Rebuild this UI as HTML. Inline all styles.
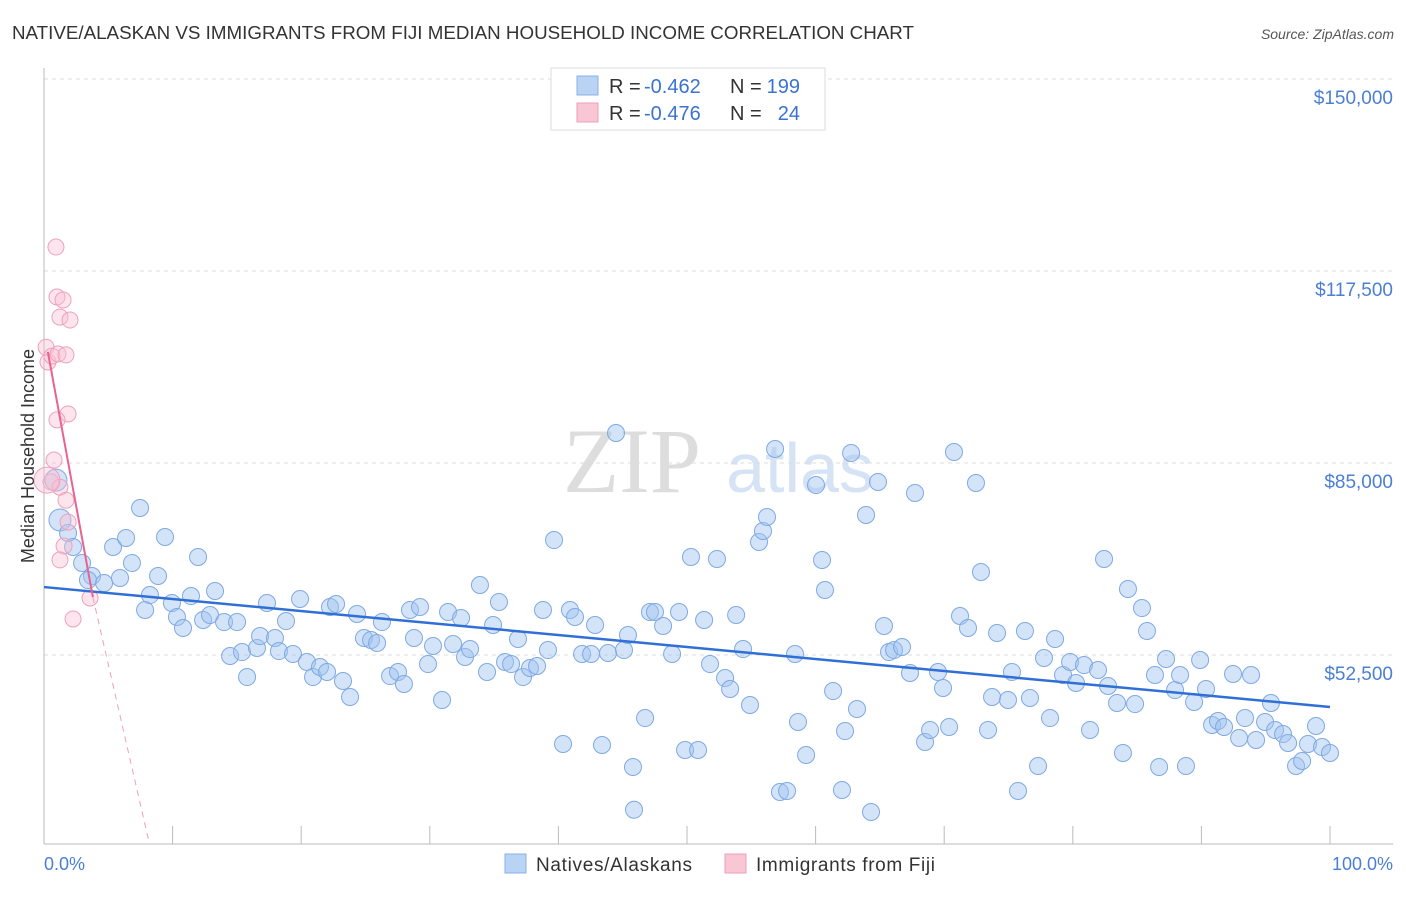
<!DOCTYPE html>
<html><head><meta charset="utf-8"><style>
body{margin:0;background:#fff;width:1406px;height:892px;overflow:hidden;font-family:"Liberation Sans",sans-serif}
</style></head><body>
<svg id="chart" width="1406" height="892" xmlns="http://www.w3.org/2000/svg">
<text x="12" y="39" font-size="18" fill="#333" textLength="902" lengthAdjust="spacingAndGlyphs">NATIVE/ALASKAN VS IMMIGRANTS FROM FIJI MEDIAN HOUSEHOLD INCOME CORRELATION CHART</text>
<text x="1394" y="39" font-size="14" fill="#555" font-style="italic" text-anchor="end">Source: ZipAtlas.com</text>
<g>
<text x="632" y="492" font-size="92" fill="#ddd" font-family="Liberation Serif,serif" text-anchor="middle">ZIP</text>
<text x="800" y="492" font-size="70" fill="#d5e3f5" text-anchor="middle">atlas</text>
</g>
<g id="grid"></g>
<g id="axes"></g>
<g id="marks"></g>
<text transform="translate(34,456) rotate(-90)" font-size="18" fill="#333" text-anchor="middle">Median Household Income</text>
<text x="44" y="870" font-size="18" fill="#4a7fd4">0.0%</text>
<text x="1393" y="870" font-size="18" fill="#4a7fd4" text-anchor="end">100.0%</text>
<g>
<rect x="551" y="68" width="274" height="62" fill="#fff" stroke="#ddd"/>
<rect x="577" y="76" width="21" height="19" fill="#b9d3f5" stroke="#8ab0e6"/>
<rect x="577" y="103" width="21" height="19" fill="#f9c6d6" stroke="#ee9fb9"/>
<text x="609" y="93" font-size="20" fill="#333">R =</text>
<text x="644" y="93" font-size="20" fill="#3a73cf">-0.462</text>
<text x="730" y="93" font-size="20" fill="#333">N =</text>
<text x="800" y="93" font-size="20" fill="#3a73cf" text-anchor="end">199</text>
<text x="609" y="120" font-size="20" fill="#333">R =</text>
<text x="644" y="120" font-size="20" fill="#3a73cf">-0.476</text>
<text x="730" y="120" font-size="20" fill="#333">N =</text>
<text x="800" y="120" font-size="20" fill="#3a73cf" text-anchor="end">24</text>
</g>
<g>
<rect x="505" y="854" width="21" height="19" fill="#b9d3f5" stroke="#8ab0e6"/>
<text x="536" y="871" font-size="19" fill="#333" textLength="156">Natives/Alaskans</text>
<rect x="725" y="854" width="21" height="19" fill="#f9c6d6" stroke="#ee9fb9"/>
<text x="756" y="871" font-size="19" fill="#333" textLength="179">Immigrants from Fiji</text>
</g>
</svg>
<script>
const yTicks=[150000,117500,85000,52500];
const yTickLabels=["$150,000","$117,500","$85,000","$52,500"];
const blueX=[0.93,1.24,1.87,2.26,2.96,3.73,3.42,4.67,5.37,5.91,6.38,6.84,7.47,7.86,8.24,8.87,9.41,9.95,10.34,10.81,11.43,11.98,12.37,12.91,13.3,14.0,14.47,15.01,15.4,15.79,16.56,16.8,17.34,17.96,18.27,18.82,19.36,19.91,20.45,20.92,21.46,22.01,22.24,22.71,23.25,23.8,24.34,24.88,25.43,25.9,26.28,26.91,27.53,27.99,28.46,28.77,29.24,29.86,30.25,30.95,31.42,31.81,32.43,32.74,33.13,33.9,34.45,34.92,35.38,35.85,36.32,36.86,37.25,37.79,38.34,38.8,39.19,39.66,40.36,40.9,41.29,41.84,42.54,42.85,43.39,43.86,44.48,45.1,45.41,45.8,46.74,47.12,47.51,48.14,48.84,49.38,49.85,50.31,50.86,51.33,51.79,52.33,52.96,53.35,53.82,54.36,54.9,55.6,55.91,56.22,56.85,57.23,57.78,58.4,58.63,59.26,60.03,60.5,60.73,61.36,62.05,62.29,62.76,63.22,63.92,64.31,64.85,65.32,65.71,66.1,66.72,67.34,67.73,68.51,68.9,69.52,69.91,70.38,70.76,71.23,71.85,72.47,72.86,73.41,73.72,74.11,74.96,75.27,75.74,76.28,76.67,77.3,77.76,78.23,78.62,79.24,79.79,80.25,80.87,81.34,81.96,82.43,82.74,83.44,83.9,84.29,84.84,85.38,85.77,86.39,86.71,87.25,87.95,88.34,88.8,89.43,89.9,90.36,90.83,91.29,91.76,92.46,92.93,93.39,93.86,94.25,94.95,95.41,95.73,96.35,96.74,97.36,97.83,98.29,98.91,99.38,100,45.88];
const blueY=[82.1,75.35,73.15,70.78,68.07,65.87,65.19,64.68,70.78,65.53,72.3,68.07,77.38,60.12,62.65,65.87,72.47,61.3,58.93,57.07,62.48,69.09,58.42,59.27,63.33,58.08,52.33,58.08,53.0,48.77,53.68,55.71,61.3,55.38,53.17,58.25,52.67,61.98,51.31,48.77,50.47,49.62,60.62,61.13,48.1,45.39,59.44,55.38,55.04,54.53,58.08,48.94,49.62,47.59,60.12,55.38,60.62,50.97,54.02,44.88,59.78,54.36,58.76,52.16,53.51,64.35,49.62,57.58,61.47,51.31,50.97,55.21,48.77,50.3,50.64,60.12,53.34,71.96,37.44,60.12,58.93,52.67,52.67,57.58,37.27,52.84,90.08,53.34,55.88,33.54,41.83,59.78,59.78,57.41,52.67,59.78,36.42,69.09,36.42,58.42,50.97,68.75,48.6,46.74,59.27,53.51,44.04,71.63,73.49,75.86,87.37,29.31,29.48,52.67,41.16,35.57,81.27,68.58,63.5,46.4,29.65,39.63,86.69,43.36,76.2,25.92,81.78,57.41,53.0,53.34,53.85,49.45,79.92,37.77,39.8,49.62,46.91,40.31,86.86,59.1,57.07,81.61,66.55,39.8,45.39,56.22,44.88,49.62,29.48,56.56,45.22,33.71,51.99,41.83,55.21,49.11,51.31,47.76,50.8,39.8,49.96,68.75,47.25,44.37,35.91,63.67,44.2,60.45,56.56,49.11,33.54,51.82,46.57,49.11,33.71,44.54,51.65,46.74,40.65,41.33,40.31,49.28,38.45,41.83,49.11,38.11,41.16,44.37,39.8,39.12,37.6,33.71,34.56,37.44,40.48,36.93,35.91,26.31];
const pinkX=[0.93,1.01,1.48,1.24,2.02,0.16,0.31,0.62,1.09,1.71,1.87,1.01,0.78,0.54,1.24,1.71,1.87,1.56,1.24,3.58,2.26,0.23];
const pinkY=[121.56,113.1,112.6,109.7,109.2,104.6,102.1,103.1,103.45,103.3,93.3,92.3,85.5,81.8,80.9,78.7,75.0,70.95,68.6,62.15,58.6,82.1];
const blueTrendX=[0,100], blueTrendY=[64.0,43.7];
const pinkTrendX=[0.3,3.8,8.2], pinkTrendY=[103.8,62.3,20.5];
const NS="http://www.w3.org/2000/svg";
const X0=44,X1=1330,Y0=79,PPK=192/32.5;
function sx(p){return X0+(X1-X0)*p/100;}
function sy(k){return Y0+(150-k)*PPK;}
function mk(tag,attrs,parent){const e=document.createElementNS(NS,tag);for(const k in attrs)e.setAttribute(k,attrs[k]);parent.appendChild(e);return e;}
const grid=document.getElementById('grid'),axes=document.getElementById('axes'),marks=document.getElementById('marks');
yTicks.forEach((v,i)=>{
 const l=mk('line',{x1:44,x2:1393,y1:sy(v/1000),y2:sy(v/1000),stroke:'#ddd','stroke-dasharray':'4,4'},grid);
 
 
 const t=mk('text',{x:1393,y:sy(v/1000)+25,'font-size':19,fill:'#4a7fd4','text-anchor':'end'},axes);
 t.textContent=yTickLabels[i];
 
 
});
let a=mk('line',{x1:44,x2:44,y1:68,y2:844,stroke:'#bbb'},axes);


a=mk('line',{x1:44,x2:1393,y1:844,y2:844,stroke:'#bbb'},axes);


for(let i=0;i<=10;i++){const t=mk('line',{x1:sx(i*10),x2:sx(i*10),y1:826,y2:844,stroke:'#bbb'},axes);
 
 }
blueX.forEach((x,i)=>{const c=mk('circle',{cx:sx(x),cy:sy(blueY[i]),r:i<2?11:8.5,fill:'rgba(160,196,240,0.45)',stroke:'#7fa9e3','stroke-width':1},marks);
 
 });
pinkX.forEach((x,i)=>{const c=mk('circle',{cx:sx(x),cy:sy(pinkY[i]),r:i==21?13:8,fill:'rgba(248,190,210,0.4)',stroke:'#f0a0bc','stroke-width':1},marks);
 
 });
let tl=mk('line',{x1:sx(blueTrendX[0]),y1:sy(blueTrendY[0]),x2:sx(blueTrendX[1]),y2:sy(blueTrendY[1]),stroke:'#2f6fd6','stroke-width':2.5},marks);


tl=mk('line',{x1:sx(pinkTrendX[0]),y1:sy(pinkTrendY[0]),x2:sx(pinkTrendX[1]),y2:sy(pinkTrendY[1]),stroke:'#e8638f','stroke-width':2},marks);


tl=mk('line',{x1:sx(pinkTrendX[1]),y1:sy(pinkTrendY[1]),x2:sx(pinkTrendX[2]),y2:sy(pinkTrendY[2]),stroke:'#eea0b8','stroke-width':1,'stroke-dasharray':'6,5'},marks);


</script>
</body></html>
